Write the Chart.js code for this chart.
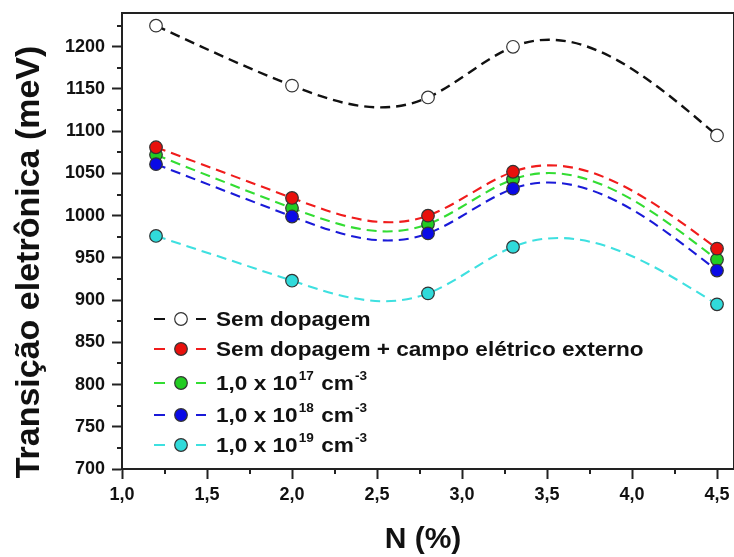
<!DOCTYPE html>
<html><head><meta charset="utf-8">
<script src="https://cdn.jsdelivr.net/npm/chart.js@4/dist/chart.umd.min.js"></script>
<style>html,body{margin:0;padding:0;background:#fff;overflow:hidden}</style>
</head><body>
<canvas id="c" width="734" height="557"></canvas>
<script>
// ---------- data ----------
const nValues = [1.2, 2.0, 2.8, 3.3, 4.5];
const semDopagem = [1225, 1154, 1140, 1200, 1095];
const semDopagemCampo = [1081, 1021, 1000, 1052, 961];
const dop17 = [1072, 1009, 990, 1043, 948];
const dop18 = [1061, 999, 979, 1032, 935];
const dop19 = [976, 923, 908, 963, 895];
const seriesLabels = ['Sem dopagem', 'Sem dopagem + campo elétrico externo',
  '1,0 x 10^{17} cm^{-3}', '1,0 x 10^{18} cm^{-3}', '1,0 x 10^{19} cm^{-3}'];
const xTicks = [1.0, 1.5, 2.0, 2.5, 3.0, 3.5, 4.0, 4.5];
const xTickLabels = ['1,0', '1,5', '2,0', '2,5', '3,0', '3,5', '4,0', '4,5'];
const xMinorTicks = [1.25, 1.75, 2.25, 2.75, 3.25, 3.75, 4.25];
const yTicks = [700, 750, 800, 850, 900, 950, 1000, 1050, 1100, 1150, 1200];
const yTickLabels = ['700', '750', '800', '850', '900', '950', '1000', '1050', '1100', '1150', '1200'];
const yMinorTicks = [725, 775, 825, 875, 925, 975, 1025, 1075, 1125, 1175, 1225];
const xTitle = 'N (%)';
const yTitle = 'Transição eletrônica (meV)';

// ---------- styles ----------
const FONT = '"Liberation Sans", Arial, sans-serif';
const AXIS = '#222';
const lineColors = ['#111111', '#f01c1c', '#33dd33', '#1a1ad8', '#3ee0e0'];
const fillColors = ['#ffffff', '#e8100c', '#22cc22', '#0a0ae6', '#30dada'];
const drawOrder = [1, 2, 5, 3, 0];

const seriesValues = [semDopagem, semDopagemCampo, dop17, dop18, dop19];
const datasets = seriesValues.map((vals, i) => ({
  label: seriesLabels[i],
  data: nValues.map((x, j) => ({x: x, y: vals[j]})),
  borderColor: lineColors[i],
  borderWidth: i === 0 ? 2.4 : 2.1,
  borderDash: [10, 6],
  tension: 0.4,
  pointRadius: 6.3,
  pointHoverRadius: 6.3,
  pointBorderWidth: 1.2,
  pointBorderColor: '#333',
  pointBackgroundColor: fillColors[i],
  fill: false,
  order: drawOrder[i]
}));

// natural cubic spline through the data points (Origin-like "Spline" connection)
const naturalSpline = {
  id: 'naturalSpline',
  beforeDatasetDraw(chart, args) {
    const meta = args.meta;
    const line = meta.dataset;
    const pts = meta.data;
    const n = pts.length;
    if (!line || n < 3) return;
    const xs = pts.map(p => p.x), ys = pts.map(p => p.y);
    const h = [];
    for (let i = 0; i < n - 1; i++) h.push(xs[i + 1] - xs[i]);
    const M = new Array(n).fill(0);
    const a = [], b = [], c = [], d = [];
    for (let i = 1; i < n - 1; i++) {
      a.push(h[i - 1]); b.push(2 * (h[i - 1] + h[i])); c.push(h[i]);
      d.push(6 * ((ys[i + 1] - ys[i]) / h[i] - (ys[i] - ys[i - 1]) / h[i - 1]));
    }
    const m = b.length;
    for (let i = 1; i < m; i++) {
      const w = a[i] / b[i - 1];
      b[i] -= w * c[i - 1]; d[i] -= w * d[i - 1];
    }
    const sol = new Array(m);
    sol[m - 1] = d[m - 1] / b[m - 1];
    for (let i = m - 2; i >= 0; i--) sol[i] = (d[i] - c[i] * sol[i + 1]) / b[i];
    for (let i = 0; i < m; i++) M[i + 1] = sol[i];
    for (let i = 0; i < n - 1; i++) {
      const s = (ys[i + 1] - ys[i]) / h[i];
      const dl = s - h[i] * (2 * M[i] + M[i + 1]) / 6;
      const dr = s + h[i] * (M[i] + 2 * M[i + 1]) / 6;
      pts[i].cp2x = xs[i] + h[i] / 3; pts[i].cp2y = ys[i] + dl * h[i] / 3;
      pts[i + 1].cp1x = xs[i + 1] - h[i] / 3; pts[i + 1].cp1y = ys[i + 1] - dr * h[i] / 3;
    }
    pts[0].cp1x = xs[0]; pts[0].cp1y = ys[0];
    pts[n - 1].cp2x = xs[n - 1]; pts[n - 1].cp2y = ys[n - 1];
    line._pointsUpdated = true;
    line._path = undefined;
  }
};

function drawRich(ctx, str, x, y, size, sx) {
  const parts = str.split(/(\^\{[^}]*\})/).filter(s => s.length);
  ctx.save();
  ctx.translate(x, y);
  ctx.scale(sx, 1);
  let cx = 0;
  parts.forEach(p => {
    if (p.startsWith('^{')) {
      const t = p.slice(2, -1);
      ctx.font = 'bold ' + Math.round(size * 0.6) + 'px ' + FONT;
      ctx.fillText(t, cx + 1, -size * 0.5);
      cx += ctx.measureText(t).width + 2;
    } else {
      ctx.font = 'bold ' + size + 'px ' + FONT;
      ctx.fillText(p, cx, 0);
      cx += ctx.measureText(p).width;
    }
  });
  ctx.restore();
}

const decor = {
  id: 'decor',
  afterDraw(chart) {
    const ctx = chart.ctx;
    const area = chart.chartArea;
    const xs = chart.scales.x, ys = chart.scales.y;
    ctx.save();
    ctx.strokeStyle = AXIS; ctx.lineWidth = 2;
    ctx.beginPath();
    ctx.moveTo(area.left, area.top); ctx.lineTo(area.right, area.top);
    ctx.lineTo(area.right, area.bottom);
    ctx.stroke();
    ctx.beginPath();
    yMinorTicks.forEach(v => {
      const py = Math.round(ys.getPixelForValue(v));
      ctx.moveTo(area.left, py); ctx.lineTo(area.left - 5, py);
    });
    xMinorTicks.forEach(v => {
      const px = Math.round(xs.getPixelForValue(v));
      ctx.moveTo(px, area.bottom); ctx.lineTo(px, area.bottom + 5);
    });
    ctx.stroke();
    ctx.fillStyle = '#111';
    ctx.textAlign = 'center';
    ctx.textBaseline = 'alphabetic';
    ctx.font = 'bold 30px ' + FONT;
    ctx.fillText(xTitle, 423, 548);
    ctx.save();
    ctx.translate(39, 262);
    ctx.rotate(-Math.PI / 2);
    ctx.font = 'bold 34px ' + FONT;
    ctx.fillText(yTitle, 0, 0);
    ctx.restore();
    const baselines = [326, 356, 390, 422, 452];
    ctx.textAlign = 'left';
    seriesLabels.forEach((lab, i) => {
      const by = baselines[i];
      const my = by - 7;
      ctx.strokeStyle = lineColors[i]; ctx.lineWidth = 2; ctx.setLineDash([]);
      ctx.beginPath();
      ctx.moveTo(154, my); ctx.lineTo(165, my);
      ctx.moveTo(196, my); ctx.lineTo(206, my);
      ctx.stroke();
      ctx.beginPath();
      ctx.arc(181, my, 6.3, 0, Math.PI * 2);
      ctx.fillStyle = fillColors[i]; ctx.fill();
      ctx.strokeStyle = '#333'; ctx.lineWidth = 1.2; ctx.stroke();
      ctx.fillStyle = '#111';
      drawRich(ctx, lab, 216, by, 20, 1.13);
    });
    ctx.restore();
  }
};

const tickFont = {family: FONT, size: 18, weight: 'bold'};

new Chart(document.getElementById('c'), {
  type: 'line',
  data: {datasets: datasets},
  options: {
    responsive: false,
    devicePixelRatio: 1,
    animation: false,
    layout: {autoPadding: false, padding: {top: 13, right: 0, left: 0, bottom: 0}},
    plugins: {legend: {display: false}, tooltip: {enabled: false}},
    scales: {
      x: {
        type: 'linear', position: 'bottom', min: 1.0, max: 4.6,
        afterFit: s => { s.height = 88; s.paddingLeft = 0; s.paddingRight = 0; },
        afterBuildTicks: s => { s.ticks = xTicks.map(v => ({value: v})); },
        ticks: {
          callback: v => xTickLabels[xTicks.indexOf(v)],
          font: tickFont, color: '#111', padding: 5, maxRotation: 0, autoSkip: false, includeBounds: false
        },
        grid: {drawOnChartArea: false, tickLength: 10, tickWidth: 2, tickColor: AXIS},
        border: {width: 2, color: AXIS}
      },
      y: {
        type: 'linear', position: 'left', min: 700, max: 1240,
        afterFit: s => { s.width = 122; s.paddingTop = 0; s.paddingBottom = 0; },
        afterBuildTicks: s => { s.ticks = yTicks.map(v => ({value: v})); },
        ticks: {
          callback: v => yTickLabels[yTicks.indexOf(v)],
          font: tickFont, color: '#111', padding: 7, autoSkip: false, includeBounds: false
        },
        grid: {drawOnChartArea: false, tickLength: 10, tickWidth: 2, tickColor: AXIS},
        border: {width: 2, color: AXIS}
      }
    }
  },
  plugins: [naturalSpline, decor]
});
</script>
</body></html>
